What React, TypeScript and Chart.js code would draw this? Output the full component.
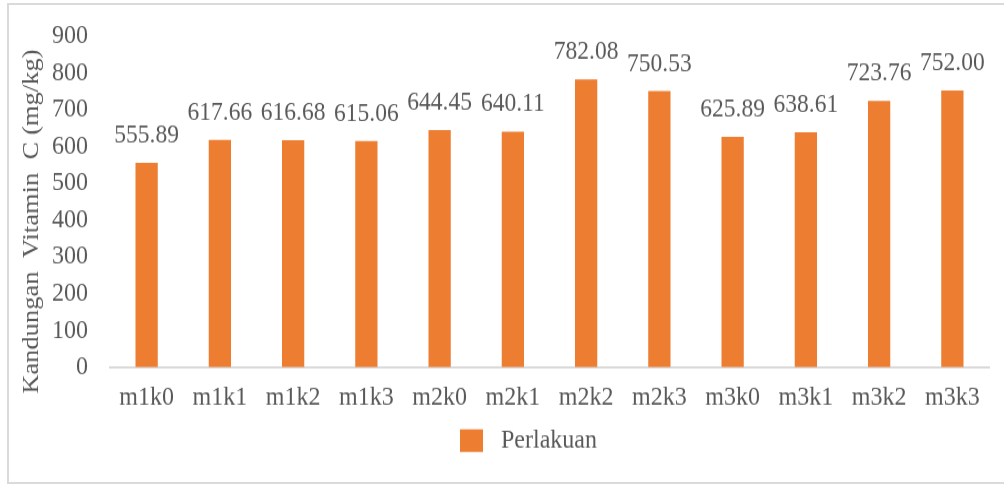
import React, { useEffect, useRef } from "react";
import { Chart, registerables } from "chart.js";

Chart.register(...registerables);

const categories = ["m1k0", "m1k1", "m1k2", "m1k3", "m2k0", "m2k1", "m2k2", "m2k3", "m3k0", "m3k1", "m3k2", "m3k3"];
const values = [555.89, 617.66, 616.68, 615.06, 644.45, 640.11, 782.08, 750.53, 625.89, 638.61, 723.76, 752.0];
const seriesName = "Perlakuan";
const yTitle = "Kandungan  Vitamin  C (mg/kg)";
const yMin = 0;
const yMax = 900;
const yStep = 100;

const W = 1004;
const H = 485;
const STRETCH = 1.13;
const IH = Math.round(H / STRETCH);

const FONT = "'Liberation Serif', 'Times New Roman', serif";
const TEXT = "#595959";
const BAR = "#ED7D31";

const valueLabels = {
  id: "valueLabels",
  afterDatasetsDraw(chart: any) {
    const ctx = chart.ctx;
    const meta = chart.getDatasetMeta(0);
    ctx.save();
    ctx.font = `23.5px ${FONT}`;
    ctx.fillStyle = TEXT;
    ctx.textAlign = "center";
    ctx.textBaseline = "alphabetic";
    meta.data.forEach((el: any, i: number) => {
      const v = chart.data.datasets[0].data[i] as number;
      ctx.fillText(v.toFixed(2), el.x, el.y - 18);
    });
    ctx.restore();
  },
};

export default function App() {
  const ref = useRef<HTMLCanvasElement | null>(null);
  useEffect(() => {
    if (!ref.current) return;
    const chart = new Chart(ref.current, {
      type: "bar",
      data: {
        labels: categories,
        datasets: [
          {
            label: seriesName,
            data: values,
            backgroundColor: BAR,
            borderWidth: 0,
            categoryPercentage: 1,
            barPercentage: 0.304,
          },
        ],
      },
      options: {
        responsive: false,
        animation: false,
        devicePixelRatio: 1,
        layout: { padding: { top: 10, left: 0, right: 15, bottom: 17.2 } },
        plugins: {
          tooltip: { enabled: false },
          legend: {
            position: "bottom",
            fullSize: false,
            labels: {
              boxWidth: 23,
              boxHeight: 20,
              color: TEXT,
              font: { family: FONT, size: 24 },
              padding: -1,
              generateLabels(chart: any) {
                const items = Chart.defaults.plugins.legend.labels.generateLabels(chart);
                return items.map((it: any) => ({ ...it, text: " " + it.text + "       " }));
              },
            },
          },
        },
        scales: {
          x: {
            grid: { display: false, drawTicks: false },
            border: { display: true, color: "#d9d9d9", width: 2 },
            ticks: { color: TEXT, font: { family: FONT, size: 24 }, padding: 12.6, maxRotation: 0 },
          },
          y: {
            min: yMin,
            max: yMax,
            grid: { display: false, drawTicks: true, tickLength: 4.5 },
            border: { display: false },
            ticks: { stepSize: yStep, autoSkip: false, color: TEXT, font: { family: FONT, size: 24 }, padding: 17.5 },
            title: {
              display: true,
              text: yTitle + "      ",
              color: TEXT,
              font: { family: FONT, size: 23.5 },
              padding: { top: 17.6, bottom: 0 },
            },
            afterFit(scale: any) {
              scale.width = 110;
            },
          },
        },
      },
      plugins: [valueLabels],
    });
    return () => chart.destroy();
  }, []);

  return (
    <div style={{ position: "absolute", left: 0, top: 0, width: W, height: H, overflow: "hidden", background: "#fff" }}>
      <div
        style={{
          position: "absolute",
          left: 7,
          top: 3,
          width: 1100,
          height: 481,
          border: "2px solid #dadada",
          boxSizing: "border-box",
        }}
      />
      <canvas
        ref={ref}
        width={W}
        height={IH}
        style={{ position: "absolute", left: 0, top: 0, width: W + "px", height: H + "px" }}
      />
    </div>
  );
}
